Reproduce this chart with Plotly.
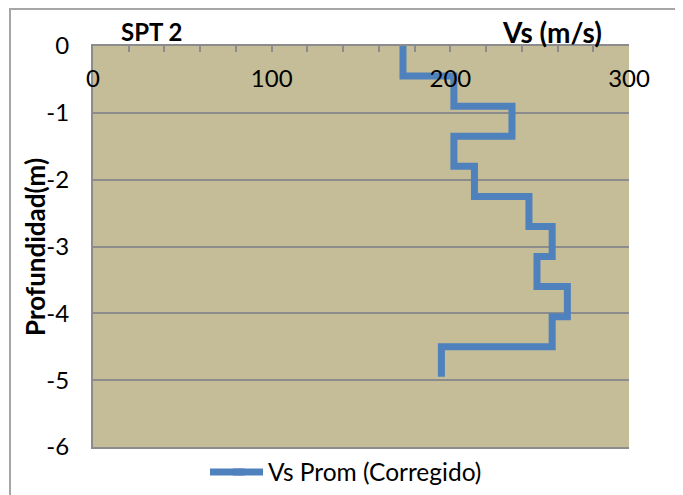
import plotly.graph_objects as go

# ---- data ----
depth_tops = [0, -0.45, -0.9, -1.35, -1.8, -2.25, -2.7, -3.15, -3.6, -4.05, -4.5]
depth_bottom = -4.95
vs_prom = [173.5, 202, 234.5, 202, 213.5, 244, 257, 248.5, 265.5, 257, 195]
series_name = "Vs Prom (Corregido)"
x_ticks = [0, 100, 200, 300]
y_ticks = [0, -1, -2, -3, -4, -5, -6]

# step path: vertical run at each Vs between layer top and next top
ys = depth_tops + [depth_bottom]
xs = vs_prom + [vs_prom[-1]]

# the page body adds an 8px offset; figure is sized to end at the window edge
OFF = 8
W, H = 683 - OFF, 495 - OFF
PL, PR, PT, PB = 93, 629, 46, 447          # plot area in page pixels
ML, MT = PL - OFF, PT - OFF
MR, MB = W - (PR - OFF), H - (PB - OFF)
PW, PH = PR - PL, PB - PT

def px_x(p):
    return (p - PL) / PW

def px_y(p):
    return (PB - p) / PH

FONT = "Lato, Calibri, Arial, sans-serif"
TAN = "#C4BD97"
GRID = "#8C8C8C"
BLUE = "#4F81BD"

fig = go.Figure()
fig.add_trace(go.Scatter(
    x=xs, y=ys, mode="lines", name=series_name,
    line=dict(color=BLUE, width=7, shape="vh"),
    showlegend=True,
))

fig.update_layout(
    width=W, height=H,
    margin=dict(l=ML, r=MR, t=MT, b=MB, autoexpand=False),
    paper_bgcolor="white",
    plot_bgcolor=TAN,
    font=dict(family=FONT, size=24, color="black"),
    showlegend=True,
    legend=dict(
        orientation="h", x=px_x(228), xanchor="left",
        y=px_y(472), yanchor="middle",
        font=dict(family=FONT, size=24.5, color="black"),
        bgcolor="rgba(0,0,0,0)",
    ),
    xaxis=dict(
        range=[0, 300], side="top",
        tickvals=x_ticks, ticktext=[str(v) for v in x_ticks],
        ticks="inside", ticklen=6, tickwidth=2, tickcolor=GRID,
        minor=dict(dtick=20, tick0=0, ticks="inside", ticklen=6, tickwidth=2, tickcolor=GRID, showgrid=False),
        ticklabelposition="inside", ticklabeloverflow="allow",
        ticklabelstandoff=20,
        showgrid=False, zeroline=False,
        showline=True, linecolor=GRID, linewidth=2, mirror=True,
        tickfont=dict(family=FONT, size=24, color="black"),
        fixedrange=True,
    ),
    yaxis=dict(
        range=[-6, 0],
        tickvals=y_ticks, ticktext=[str(v) for v in y_ticks],
        ticks="", showgrid=True, gridcolor=GRID, gridwidth=2,
        zeroline=False, showline=True, linecolor=GRID, linewidth=2,
        ticklabelstandoff=17,
        tickfont=dict(family=FONT, size=24, color="black"),
        fixedrange=True,
    ),
    annotations=[
        dict(text="<b>SPT 2</b>", xref="paper", yref="paper",
             x=px_x(119), y=px_y(31), xanchor="left", yanchor="middle",
             showarrow=False, font=dict(family=FONT, size=24, color="black")),
        dict(text="<b>Vs (m/s)</b>", xref="paper", yref="paper",
             x=px_x(604), y=px_y(32), xanchor="right", yanchor="middle",
             showarrow=False, font=dict(family=FONT, size=28, color="black")),
        dict(text="<b>Profundidad(m)</b>", xref="paper", yref="paper",
             x=px_x(35), y=px_y(247), xanchor="center", yanchor="middle",
             textangle=-90, showarrow=False,
             font=dict(family=FONT, size=26, color="black")),
    ],
    shapes=[
        dict(type="rect", xref="paper", yref="paper",
             x0=px_x(10), x1=px_x(676), y0=px_y(510), y1=px_y(OFF + 1),
             line=dict(color="#A6A6A6", width=2), fillcolor="rgba(0,0,0,0)",
             layer="below"),
        # extends the legend key to the long Excel-style sample
        dict(type="line", xref="paper", yref="paper",
             x0=px_x(210), x1=px_x(245), y0=px_y(472), y1=px_y(472),
             line=dict(color=BLUE, width=7)),
    ],
)

fig.write_html("out.html")
